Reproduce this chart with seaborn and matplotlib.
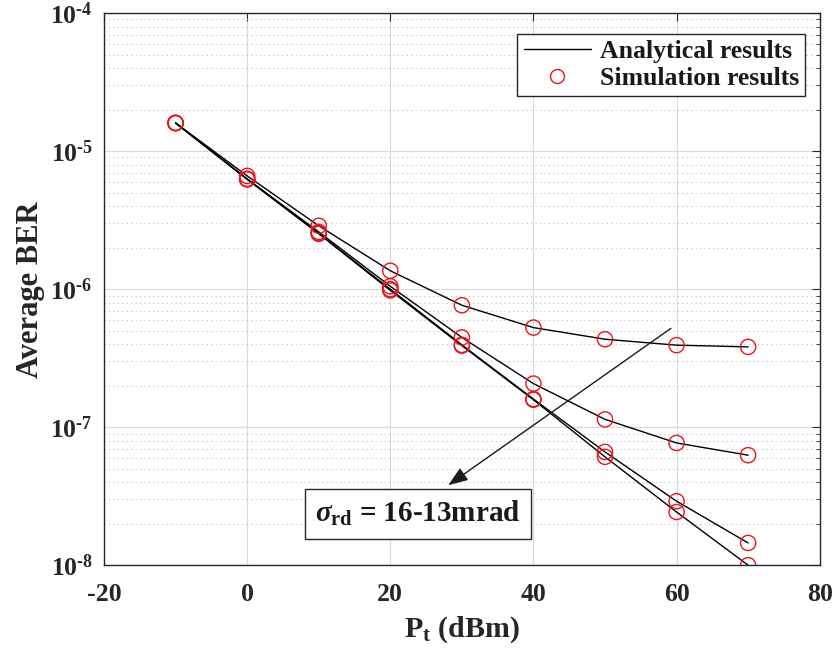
import matplotlib
matplotlib.use("Agg")
import matplotlib.pyplot as plt
from matplotlib.lines import Line2D
from matplotlib.ticker import LogLocator, FixedLocator, FuncFormatter, NullFormatter
import numpy as np
import pandas as pd
import seaborn as sns

# Transmit power (dBm)
pt_dbm = [-10, 0, 10, 20, 30, 40, 50, 60, 70]

# Average BER for each pointing-error jitter sigma_rd (mrad)
ber_16 = [1.60e-5, 6.62e-6, 2.88e-6, 1.36e-6, 7.65e-7, 5.27e-7, 4.34e-7, 3.93e-7, 3.82e-7]
ber_15 = [1.60e-5, 6.30e-6, 2.60e-6, 1.05e-6, 4.47e-7, 2.07e-7, 1.14e-7, 7.69e-8, 6.27e-8]
ber_14 = [1.60e-5, 6.27e-6, 2.54e-6, 1.00e-6, 3.95e-7, 1.60e-7, 6.62e-8, 2.91e-8, 1.45e-8]
ber_13 = [1.60e-5, 6.25e-6, 2.52e-6, 0.98e-6, 3.90e-7, 1.58e-7, 6.10e-8, 2.43e-8, 1.00e-8]

jitter_mrad = [16, 15, 14, 13]
x_ticks = [-20, 0, 20, 40, 60, 80]
y_decades = [-8, -7, -6, -5, -4]

frames = []
for sig, ber in zip(jitter_mrad, [ber_16, ber_15, ber_14, ber_13]):
    frames.append(pd.DataFrame({"pt": pt_dbm, "ber": ber, "sigma": sig}))
df = pd.concat(frames, ignore_index=True)

sns.set_style("white")
plt.rcParams["font.family"] = ["Liberation Serif", "DejaVu Serif"]
plt.rcParams["font.weight"] = "bold"
plt.rcParams["axes.unicode_minus"] = False
plt.rcParams["mathtext.fontset"] = "custom"
plt.rcParams["mathtext.rm"] = "Liberation Serif:bold"
plt.rcParams["mathtext.bf"] = "Liberation Serif:bold"
plt.rcParams["mathtext.it"] = "Liberation Serif:italic"

fig = plt.figure(figsize=(8.39, 6.58), dpi=100)
ax = fig.add_axes([0.124, 0.141, 0.853, 0.839])

# Analytical curves
sns.lineplot(data=df, x="pt", y="ber", units="sigma", estimator=None,
             color="black", linewidth=1.0, ax=ax, legend=False, sort=True)
# Simulation points
sns.scatterplot(data=df, x="pt", y="ber", ax=ax, marker="o", s=120,
                facecolor="none", edgecolor="#e8141e", linewidth=1.0,
                legend=False, zorder=3)

ax.set_yscale("log")
ax.set_xlim(-20, 80)
ax.set_ylim(1e-8, 1e-4)
ax.xaxis.set_major_locator(FixedLocator(x_ticks))
ax.yaxis.set_major_locator(FixedLocator([10.0 ** d for d in y_decades]))
ax.yaxis.set_major_formatter(
    FuncFormatter(lambda v, p: r"$10^{\text{-}%d}$" % abs(round(np.log10(v)))))
ax.yaxis.set_minor_locator(LogLocator(base=10, subs=np.arange(2, 10), numticks=20))
ax.yaxis.set_minor_formatter(NullFormatter())

ax.grid(True, which="major", color="#d9d9d9", linewidth=0.8, linestyle="-")
ax.grid(True, which="minor", axis="y", color="#bfbfbf", linewidth=0.8, linestyle=(0, (1, 3)))
ax.set_axisbelow(True)

ax.tick_params(which="both", direction="in", top=True, right=True, labelsize=18.5,
               pad=8, colors="#262626")
ax.tick_params(axis="x", pad=13)
ax.tick_params(which="major", length=6, width=0.8)
ax.tick_params(which="minor", length=3, width=0.6)
for lab in ax.get_xticklabels():
    lab.set_fontweight("bold")
for spine in ax.spines.values():
    spine.set_color("#262626")
    spine.set_linewidth(1.0)

ax.set_xlabel(r"P$_\mathrm{t}$ (dBm)", fontsize=21.5, fontweight="bold",
              labelpad=6, color="#262626")
ax.set_ylabel("Average BER", fontsize=22, fontweight="bold", labelpad=4,
              color="#262626")

handles = [
    Line2D([], [], color="black", linewidth=1.0, label="Analytical results"),
    Line2D([], [], color="#e8141e", marker="o", markersize=10, markerfacecolor="none",
           linestyle="none", markeredgewidth=1.0, label="Simulation results"),
]
leg = ax.legend(handles=handles, loc="upper right", bbox_to_anchor=(0.987, 0.972),
                fontsize=18.5, frameon=True, fancybox=False, framealpha=1,
                edgecolor="#262626", borderpad=0.25, labelspacing=0.15,
                handlelength=2.6, handletextpad=0.35, borderaxespad=0.2)
leg.get_frame().set_linewidth(1.0)
for t in leg.get_texts():
    t.set_fontweight("bold")
    t.set_color("#1a1a1a")

ax.annotate("", xy=(28.1, 3.8e-8), xytext=(59.2, 5.2e-7),
            arrowprops=dict(arrowstyle="-|>,head_length=1.2,head_width=0.45",
                            color="#1a1a1a", lw=1.0, shrinkA=0, shrinkB=0))
ax.text(23.9, 2.36e-8, r"$\sigma_{\mathrm{rd}}$ = 16-13mrad", fontsize=21,
        fontweight="bold", ha="center", va="center", color="#1a1a1a",
        bbox=dict(boxstyle="square,pad=0.35", facecolor="white",
                  edgecolor="#262626", linewidth=1.0))

fig.savefig("out.png", dpi=100)
